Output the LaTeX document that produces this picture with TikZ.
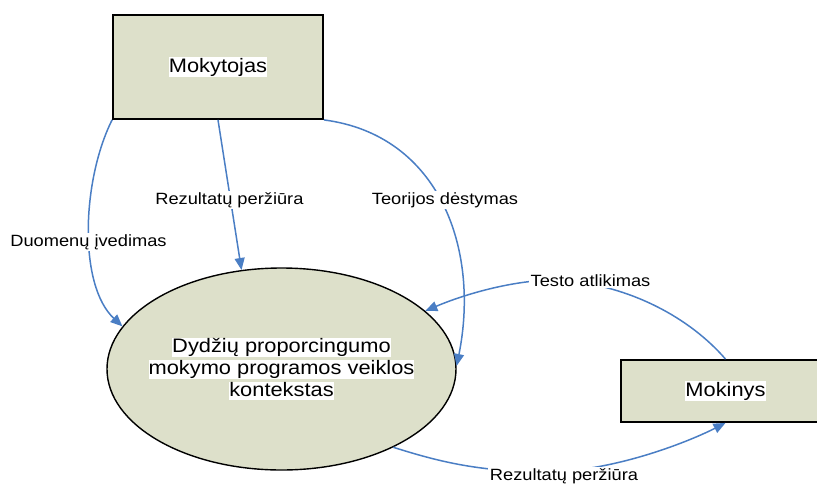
\documentclass[tikz,border=0pt]{standalone}
\usepackage{fontspec}
\setmainfont{Liberation Sans}
\newfontfamily\diagfont[FakeStretch=1.12]{Liberation Sans}
\usetikzlibrary{shapes.geometric,arrows.meta}
\definecolor{boxfill}{HTML}{DDE0CA}
\definecolor{flow}{HTML}{4A7EC4}
% white highlight behind a line of node text
\newcommand\hlline[1]{{\setlength{\fboxsep}{0pt}\colorbox{white}{\rule[-3.5pt]{0pt}{18.5pt}#1}}}
\begin{document}
\begin{tikzpicture}[x=1pt,y=-1pt,
  entity/.style={draw=black,line width=1.8pt,fill=boxfill,rectangle,inner sep=0pt,
    font=\diagfont\fontsize{19.5}{22}\selectfont},
  process/.style={draw=black,line width=1.4pt,fill=boxfill,ellipse,inner sep=0pt},
  proctext/.style={inner sep=0pt,align=center,font=\diagfont\fontsize{19.5}{22}\selectfont},
  flowline/.style={draw=flow,line width=1.5pt,-{Triangle[length=12pt,width=10pt]}},
  flowlabel/.style={fill=white,inner sep=1.5pt,anchor=base,
    font=\diagfont\fontsize{16.3}{19}\selectfont}]
\useasboundingbox (0,0) rectangle (817,483);
\clip (0,0) rectangle (817,483);

% external entities and the process
\node[entity,minimum width=210pt,minimum height=104pt] (teacher) at (218,67) {\hlline{Mokytojas}};
\node[entity,minimum width=209pt,minimum height=62pt] (student) at (725.5,391) {\hlline{Mokinys}};
\node[process,minimum width=349pt,minimum height=202pt] (ctx) at (281.5,369) {};
\node[proctext] (ctxtext) at (ctx.center)
  {\hlline{Dydžių proporcingumo}\\\hlline{mokymo programos veiklos}\\\hlline{kontekstas}};

% data flows
\draw[flowline] (teacher.south west) .. controls (82,180) and (78,285) .. (ctx.165);
\draw[flowline] (teacher.south) -- (ctx.112);
\draw[flowline] (teacher.south east) .. controls (440,135) and (480,250) .. (ctx.1);
\draw[flowline] (student.north) .. controls (690,318) and (630,285) .. (560,280)
  .. controls (520,279) and (470,292) .. (ctx.22);
\draw[flowline] (ctx.-35) .. controls (440,462) and (480,472) .. (550,472)
  .. controls (620,470) and (692,440) .. (student.south);

% flow labels
\node[flowlabel] (lblinput) at (88.5,246) {Duomenų įvedimas};
\node[flowlabel] (lblview) at (229.4,204) {Rezultatų peržiūra};
\node[flowlabel] (lbltheory) at (445,204) {Teorijos dėstymas};
\node[flowlabel] (lbltest) at (590.5,286) {Testo atlikimas};
\node[flowlabel] (lblresult) at (564,480.7) {Rezultatų peržiūra};
\end{tikzpicture}
\end{document}
